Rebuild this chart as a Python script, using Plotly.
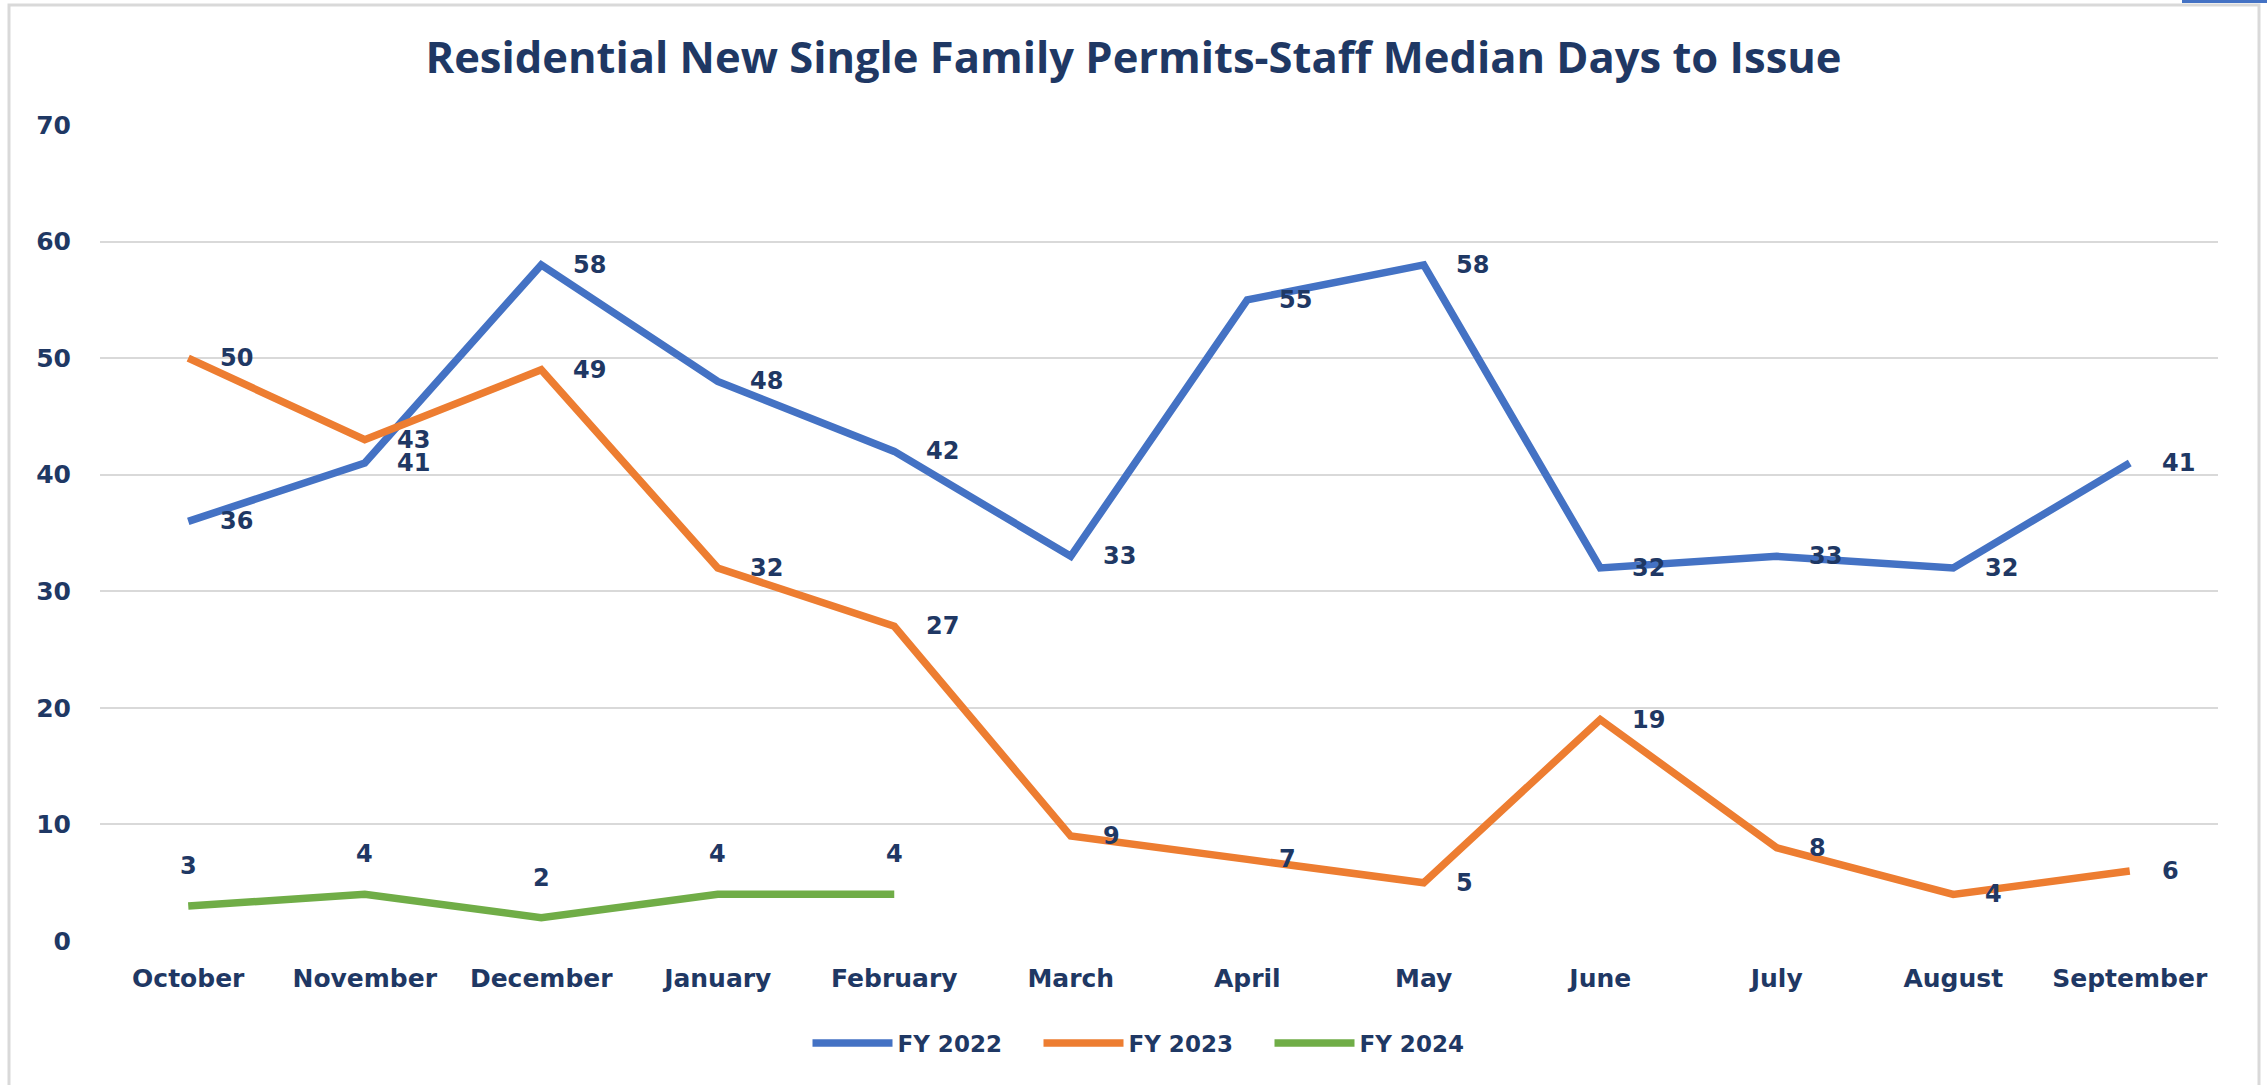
import plotly.graph_objects as go

months = ["October", "November", "December", "January", "February", "March",
          "April", "May", "June", "July", "August", "September"]
fy2022 = [36, 41, 58, 48, 42, 33, 55, 58, 32, 33, 32, 41]
fy2023 = [50, 43, 49, 32, 27, 9, 7, 5, 19, 8, 4, 6]
fy2024 = [3, 4, 2, 4, 4]

series = [
    ("FY 2022", fy2022, "#4472C4", "right"),
    ("FY 2023", fy2023, "#ED7D31", "right"),
    ("FY 2024", fy2024, "#70AD47", "top"),
]

NAVY = "#1F3864"
W, H = 2267, 1085
L, R, T, B = 100, 49, 125, 144
PW, PH = W - L - R, H - T - B

def px(x):
    return (x - L) / PW

def py(y):
    return (H - B - y) / PH

fig = go.Figure()
annotations = []
lab_font = dict(family="DejaVu Sans", size=24, color=NAVY, weight="bold")
for name, vals, color, pos in series:
    xs = months[:len(vals)]
    fig.add_trace(go.Scatter(
        x=xs, y=vals, mode="lines", name=name,
        line=dict(color=color, width=7.5),
        hoverinfo="x+y+name",
    ))
    for m, v in zip(xs, vals):
        if pos == "right":
            annotations.append(dict(x=m, y=v, text=str(v), showarrow=False,
                                    xanchor="left", yanchor="middle", xshift=30,
                                    font=lab_font))
        else:
            annotations.append(dict(x=m, y=v, text=str(v), showarrow=False,
                                    xanchor="center", yanchor="middle", yshift=40,
                                    font=lab_font))

shapes = [
    dict(type="rect", xref="paper", yref="paper",
         x0=px(9), x1=px(2259), y0=py(1100), y1=py(5),
         line=dict(color="#D9D9D9", width=3), fillcolor="rgba(0,0,0,0)", layer="below"),
    dict(type="rect", xref="paper", yref="paper",
         x0=px(2182), x1=px(2267), y0=py(3), y1=py(0),
         line=dict(width=0), fillcolor="#4472C4", layer="below"),
]

fig.update_layout(
    width=W, height=H,
    margin=dict(l=L, r=R, t=T, b=B),
    paper_bgcolor="white", plot_bgcolor="white",
    title=dict(text="<b>Residential New Single Family Permits-Staff Median Days to Issue</b>",
               x=0.5, xref="container", xanchor="center",
               y=1 - 58 / H, yref="container", yanchor="middle",
               font=dict(family="Open Sans", size=43.5, color=NAVY)),
    xaxis=dict(type="category", categoryorder="array", categoryarray=months,
               range=[-0.5, 11.5], showgrid=False, zeroline=False, showline=False,
               ticks="", ticklabelstandoff=20,
               tickfont=dict(family="DejaVu Sans", size=25, color=NAVY, weight="bold")),
    yaxis=dict(range=[0, 70], dtick=10, showgrid=True, gridcolor="#D9D9D9", gridwidth=2,
               zeroline=False, showline=False, ticks="", ticklabelstandoff=28,
               tickfont=dict(family="DejaVu Sans", size=25, color=NAVY, weight="bold")),
    legend=dict(orientation="h", x=px(1154), xanchor="center", y=py(1043), yanchor="middle",
                font=dict(family="DejaVu Sans", size=23, color=NAVY, weight="bold"),
                itemwidth=80, entrywidth=136, entrywidthmode="pixels",
                bgcolor="rgba(0,0,0,0)"),
    annotations=annotations,
    shapes=shapes,
    showlegend=True,
)

fig.write_html("out.html")
